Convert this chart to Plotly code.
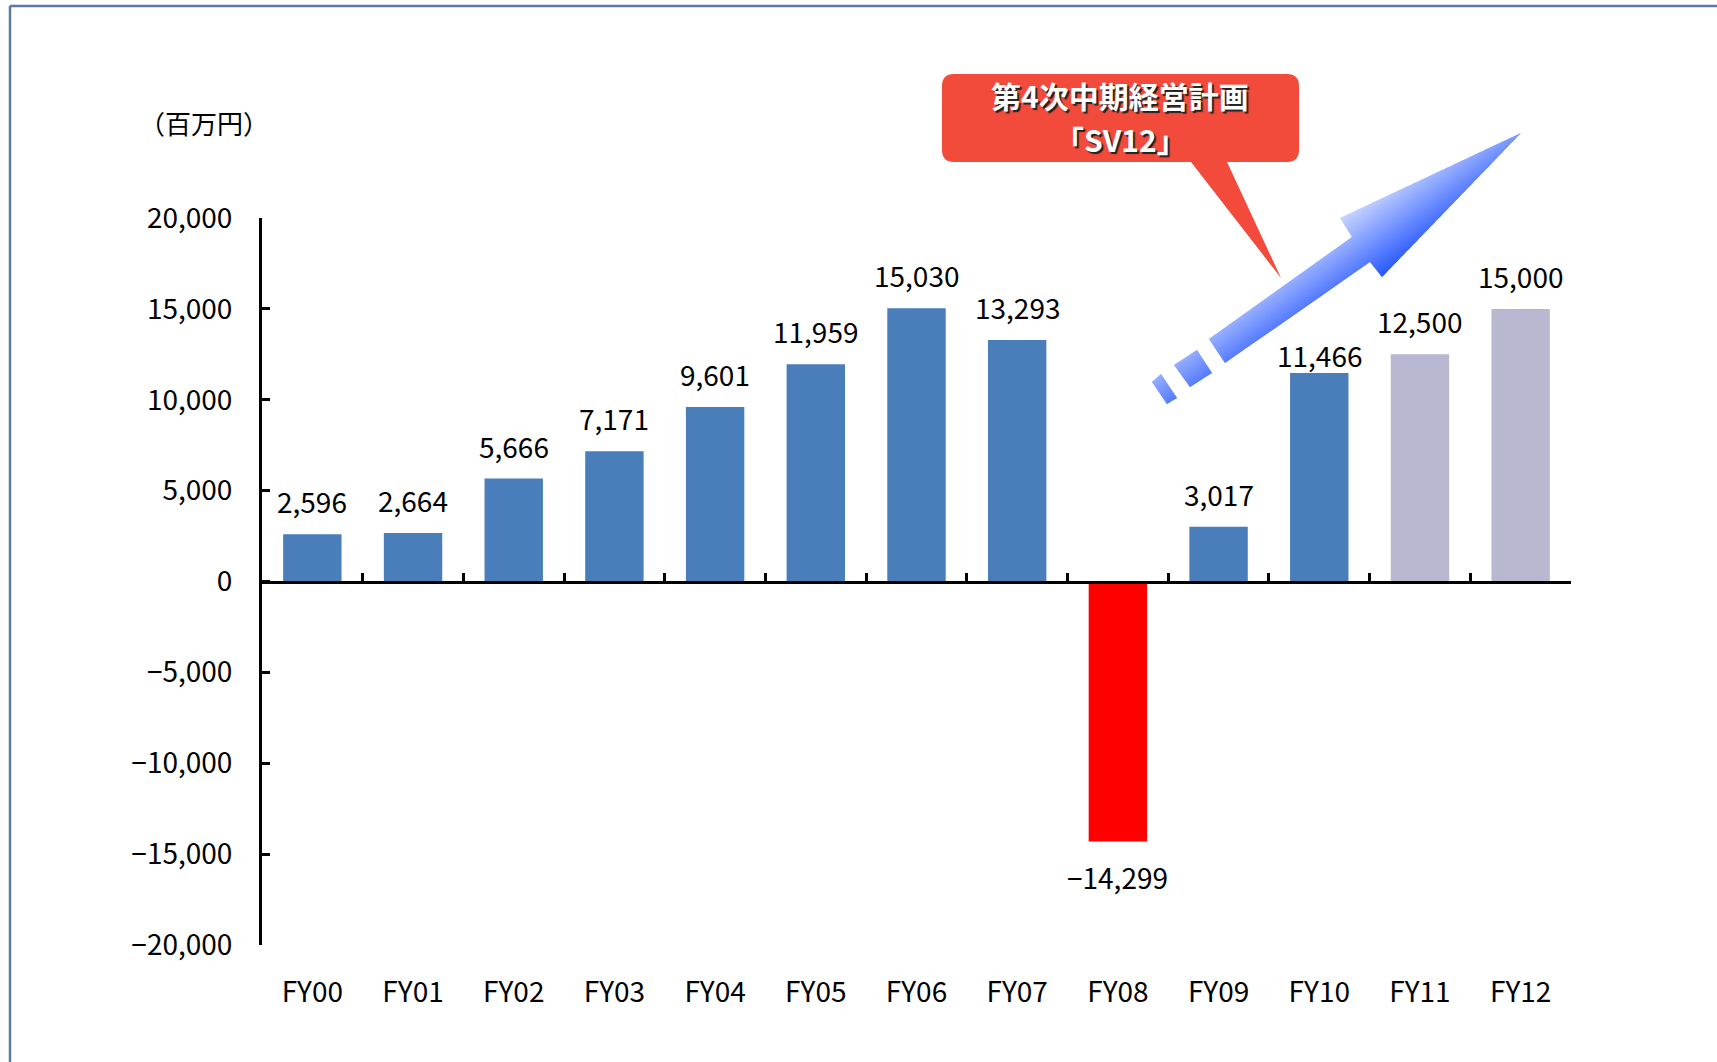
import plotly.graph_objects as go

# ---------------- data ----------------
categories = ["FY00", "FY01", "FY02", "FY03", "FY04", "FY05", "FY06",
              "FY07", "FY08", "FY09", "FY10", "FY11", "FY12"]
net_income = [2596, 2664, 5666, 7171, 9601, 11959, 15030,
              13293, -14299, 3017, 11466, 12500, 15000]
status = ["実績", "実績", "実績", "実績", "実績", "実績", "実績",
          "実績", "実績", "実績", "実績", "計画", "計画"]
y_ticks = [-20000, -15000, -10000, -5000, 0, 5000, 10000, 15000, 20000]
unit_label = "（百万円）"
callout_lines = ["第4次中期経営計画", "「SV12」"]

# ---------------- styles / layout ----------------
W, H = 1717, 1062
AX_L, AX_R, AX_T, AX_B = 262, 1571, 218, 945
NUM_FONT = "Noto Sans CJK JP, sans-serif"
JP_FONT = "Noto Sans CJK JP, sans-serif"
NUM_SIZE = 28
C_ACTUAL = "#4A7EBB"
C_PLAN = "#B8B9D1"
C_LOSS = "#FF0000"
C_CALLOUT = "#F24B3B"
C_FRAME = "#5A79A5"
label_nudge = {"FY10": -15}   # label sits closer to this bar (arrow above it)
callout_style = [(95, 30), (139.5, 30)]  # (centre y px, font size) per line


def px(x, y):
    return x / W, 1 - y / H


def path_from(points):
    pts = [px(x, y) for x, y in points]
    s = "M {:.6f},{:.6f} ".format(*pts[0])
    s += " ".join("L {:.6f},{:.6f}".format(a, b) for a, b in pts[1:])
    return s + " Z"


colors = []
for v, s in zip(net_income, status):
    if v < 0:
        colors.append(C_LOSS)
    elif s == "計画":
        colors.append(C_PLAN)
    else:
        colors.append(C_ACTUAL)

fig = go.Figure()
fig.add_trace(go.Bar(
    x=categories, y=net_income, marker=dict(color=colors, line=dict(width=0)),
    width=0.58, showlegend=False, hoverinfo="x+y",
))

# value labels
annotations = []
for c, v in zip(categories, net_income):
    label = "{:,}".format(abs(v))
    if v < 0:
        label = "\u2212" + label
    shift = (11 if v >= 0 else -14) + label_nudge.get(c, 0)
    annotations.append(dict(
        x=c, y=v, xref="x", yref="y", text=label, showarrow=False,
        yanchor="bottom" if v >= 0 else "top",
        yshift=shift,
        font=dict(family=NUM_FONT, size=NUM_SIZE, color="#000"),
    ))

# unit label
ux, uy = px(204, 123)
annotations.append(dict(x=ux, y=uy, xref="paper", yref="paper", text=unit_label,
                        showarrow=False, xanchor="center", yanchor="middle",
                        font=dict(family=JP_FONT, size=26, color="#000")))

# callout text
for line, (ly, fs) in zip(callout_lines, callout_style):
    cx_, cy_ = px(1120, ly)
    annotations.append(dict(
        x=cx_, y=cy_, xref="paper", yref="paper",
        text="<b>" + line + "</b>",
        showarrow=False, xanchor="center", yanchor="middle", align="center",
        borderpad=0,
        font=dict(family=JP_FONT, size=fs, color="white",
                  shadow="2px 2px 1px #222"),
    ))

shapes = []
# frame
fx0, fy0 = px(10, 6)
shapes.append(dict(type="line", xref="paper", yref="paper", x0=fx0, y0=fy0, x1=1.0, y1=fy0,
                   line=dict(color=C_FRAME, width=2.5)))
shapes.append(dict(type="line", xref="paper", yref="paper", x0=fx0, y0=fy0, x1=fx0, y1=0,
                   line=dict(color=C_FRAME, width=2.5)))

# callout balloon
bx0, bx1, by0, by1, r = 942, 1299, 74, 162, 12


def P(x, y):
    a, b = px(x, y)
    return "{:.6f},{:.6f}".format(a, b)


callout_path = (
    f"M {P(bx0 + r, by0)} L {P(bx1 - r, by0)} Q {P(bx1, by0)} {P(bx1, by0 + r)} "
    f"L {P(bx1, by1 - r)} Q {P(bx1, by1)} {P(bx1 - r, by1)} "
    f"L {P(1227, by1)} L {P(1281, 278)} L {P(1191, by1)} "
    f"L {P(bx0 + r, by1)} Q {P(bx0, by1)} {P(bx0, by1 - r)} "
    f"L {P(bx0, by0 + r)} Q {P(bx0, by0)} {P(bx0 + r, by0)} Z"
)
shapes.append(dict(type="path", xref="paper", yref="paper", path=callout_path,
                   fillcolor=C_CALLOUT, line=dict(width=0)))

# gradient arrow (drawn as strips across the arrow's width)
arrow_parts = [
    [(1209, 339), (1352, 237), (1340, 218), (1521, 133), (1382, 277), (1370, 262), (1225, 363)],
    [(1174, 365), (1197, 350), (1212, 373), (1190, 387)],
    [(1152, 382), (1161, 374), (1177, 398), (1167, 404)],
]
nvec = (0.581, 0.814)
c0 = 1521 * nvec[0] + 133 * nvec[1]


def proj(p):
    return p[0] * nvec[0] + p[1] * nvec[1] - c0


def clip_half(poly, val, keep_ge):
    out = []
    n = len(poly)
    for i in range(n):
        a, b = poly[i], poly[(i + 1) % n]
        da, db = proj(a) - val, proj(b) - val
        ina = da >= 0 if keep_ge else da <= 0
        inb = db >= 0 if keep_ge else db <= 0
        if ina:
            out.append(a)
        if ina != inb:
            t = da / (da - db)
            out.append((a[0] + t * (b[0] - a[0]), a[1] + t * (b[1] - a[1])))
    return out


light = (205, 217, 255)
dark = (40, 88, 255)
tmin, tmax = -37.0, 37.0
N = 46
step = (tmax - tmin) / N
for k in range(N):
    lo = tmin + k * step - 0.6
    hi = tmin + (k + 1) * step + 0.6
    f = (k + 0.5) / N
    col = "rgb({},{},{})".format(*[round(light[i] + (dark[i] - light[i]) * f) for i in range(3)])
    for poly in arrow_parts:
        pc = clip_half(clip_half(poly, lo, True), hi, False)
        if len(pc) >= 3:
            shapes.append(dict(type="path", xref="paper", yref="paper", path=path_from(pc),
                               fillcolor=col, line=dict(width=0)))

# axis geometry
xd = [AX_L / W, AX_R / W]
yd = [1 - AX_B / H, 1 - AX_T / H]
zero_pos = (yd[0] + yd[1]) / 2

fig.update_layout(
    width=W, height=H,
    margin=dict(l=0, r=0, t=0, b=0, pad=0),
    paper_bgcolor="white", plot_bgcolor="white",
    showlegend=False,
    font=dict(family=NUM_FONT, size=NUM_SIZE, color="#000"),
    xaxis=dict(
        domain=xd, type="category", range=[-0.5, len(categories) - 0.5],
        anchor="free", position=zero_pos,
        showline=True, linecolor="#000", linewidth=3,
        ticks="inside", tickson="boundaries", ticklen=8, tickwidth=3, tickcolor="#000",
        showgrid=False, zeroline=False, automargin=False,
        tickfont=dict(family=NUM_FONT, size=NUM_SIZE, color="#000"),
        ticklabelstandoff=385,
    ),
    yaxis=dict(
        domain=yd, range=[y_ticks[0], y_ticks[-1]], anchor="x",
        tickmode="array", tickvals=y_ticks, tickformat=",",
        showline=True, linecolor="#000", linewidth=3,
        ticks="inside", ticklen=8, tickwidth=3, tickcolor="#000",
        showgrid=False, zeroline=False, automargin=False,
        tickfont=dict(family=NUM_FONT, size=NUM_SIZE, color="#000"),
        ticklabelstandoff=21,
    ),
    annotations=annotations,
    shapes=shapes,
)

fig.write_html("out.html", config={"displayModeBar": False},
               post_script="document.body.style.margin='0';")
